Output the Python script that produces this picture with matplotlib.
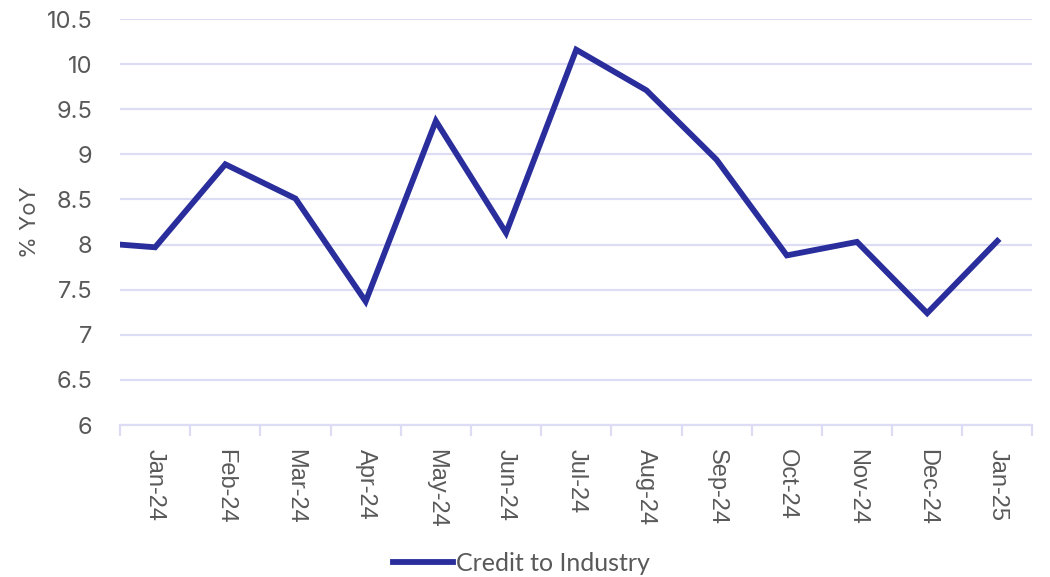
import numpy as np
import matplotlib.pyplot as plt
from matplotlib.ticker import FixedLocator, FuncFormatter

# Data: monthly credit to industry growth (% YoY); Dec-23 lies just off the left edge
months = ['Dec-23', 'Jan-24', 'Feb-24', 'Mar-24', 'Apr-24', 'May-24', 'Jun-24',
          'Jul-24', 'Aug-24', 'Sep-24', 'Oct-24', 'Nov-24', 'Dec-24', 'Jan-25']
credit_industry = [8.03, 7.97, 8.89, 8.51, 7.37, 9.37, 8.13,
                   10.16, 9.71, 8.94, 7.88, 8.03, 7.24, 8.04]
shown_months = months[1:]

line_color = '#2A2E9C'
grid_color = '#DCDCF4'
text_color = '#595959'

fig = plt.figure(figsize=(10.5, 5.77), dpi=100)
ax = fig.add_axes([0.1143, 0.2634, 0.869, 0.7036])

x = np.arange(len(months))
ax.plot(x, credit_industry, color=line_color, lw=4.2, solid_joinstyle='miter',
        label='Credit to Industry', clip_on=True)

ax.set_xlim(0.5, len(months) - 0.5)
ax.set_ylim(6, 10.5)

# y axis
ax.set_yticks(np.arange(6, 10.51, 0.5))
ax.yaxis.set_major_formatter(FuncFormatter(lambda v, p: f'{v:g}'))
ax.tick_params(axis='y', length=0, pad=20, labelsize=17, labelcolor=text_color)
for lab in ax.get_yticklabels():
    lab.set_fontfamily('Inter')
ax.grid(axis='y', color=grid_color, lw=1.6)
ax.set_axisbelow(True)
ax.set_ylabel('% YoY', fontsize=16, color=text_color, family='Inter')
ax.yaxis.set_label_coords(-0.088, 0.5)

# x axis: labels in the middle of each slot, tick marks at slot edges
ax.xaxis.set_major_locator(FixedLocator(x[1:]))
ax.set_xticklabels(shown_months, rotation=270, fontsize=17, color=text_color,
                   family='Liberation Sans', va='top', ha='center')
ax.tick_params(axis='x', which='major', length=0, pad=17)
ax.xaxis.set_minor_locator(FixedLocator(np.arange(0.5, len(months), 1.0)))
ax.tick_params(axis='x', which='minor', length=8, width=1.6, color=grid_color)

for side in ['top', 'right', 'left']:
    ax.spines[side].set_visible(False)
ax.spines['bottom'].set_color(grid_color)
ax.spines['bottom'].set_linewidth(1.6)

fig.legend(loc='center', bbox_to_anchor=(0.497, 0.024), frameon=False,
           handlelength=2.4, handletextpad=0.12,
           prop={'family': 'Lato', 'size': 18}, labelcolor=text_color)

fig.savefig('out.png', dpi=100)
